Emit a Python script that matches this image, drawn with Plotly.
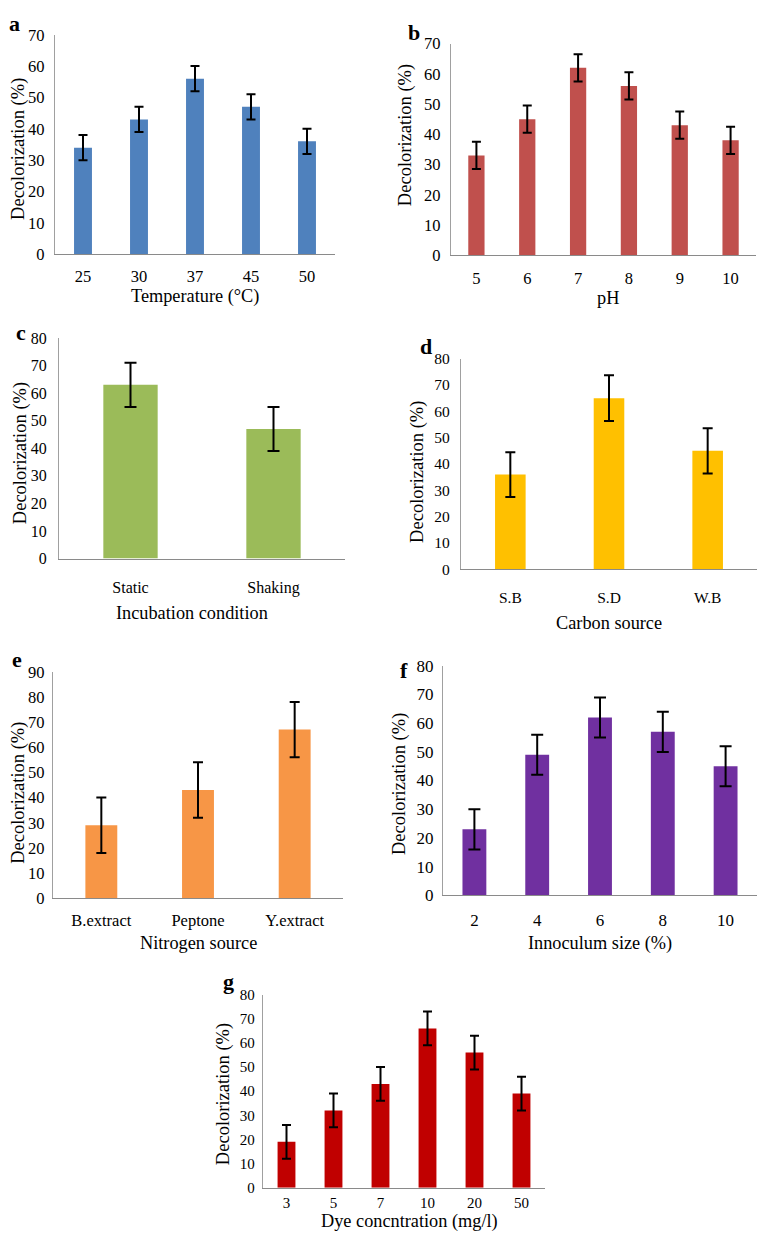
import plotly.graph_objects as go

# The page body has an 8px default margin; the figure is sized and
# positioned so that page pixel (px) maps to figure pixel (px - OFF).
OFF = 8
PAGE_W, PAGE_H = 770, 1241
W, H = PAGE_W - OFF, PAGE_H - OFF

# ---- data ----
temp_cats = ["25", "30", "37", "45", "50"]
temp_vals = [34, 43, 56, 47, 36]
temp_err = [4, 4, 4, 4, 4]

ph_cats = ["5", "6", "7", "8", "9", "10"]
ph_vals = [33, 45, 62, 56, 43, 38]
ph_err = [4.5, 4.5, 4.5, 4.5, 4.5, 4.5]

inc_cats = ["Static", "Shaking"]
inc_vals = [63, 47]
inc_err = [8, 8]

carbon_cats = ["S.B", "S.D", "W.B"]
carbon_vals = [36, 65, 45]
carbon_err = [8.5, 8.7, 8.6]

nitro_cats = ["B.extract", "Peptone", "Y.extract"]
nitro_vals = [29, 43, 67]
nitro_err = [11, 11, 11]

inoc_cats = ["2", "4", "6", "8", "10"]
inoc_vals = [23, 49, 62, 57, 45]
inoc_err = [7, 7, 7, 7, 7]

dye_cats = ["3", "5", "7", "10", "20", "50"]
dye_vals = [19, 32, 43, 66, 56, 39]
dye_err = [7, 7, 7, 7, 7, 7]

FONT = "Liberation Serif"
YTITLE = "Decolorization (%)"


def fx(px):
    return (px - OFF) / W


def fy(py):
    return 1 - (py - OFF) / H


panels = [
    dict(cats=temp_cats, vals=temp_vals, err=temp_err, color="#4F81BD",
         box=(55, 335, 26, 249), ymax=70, fs=16.5, bw=0.32, cap=4.5, xs=7, ys=6,
         letter="a", lpos=(14, 15), xt="Temperature (°C)", xtpos=(195, 292), ytpos=(19, 142)),
    dict(cats=ph_cats, vals=ph_vals, err=ph_err, color="#C0504D",
         box=(451, 756, 35, 250), ymax=70, fs=16.5, bw=0.32, cap=4.5, xs=8, ys=6,
         letter="b", lpos=(414, 24), xt="pH", xtpos=(608, 293), ytpos=(405, 128)),
    dict(cats=inc_cats, vals=inc_vals, err=inc_err, color="#9BBB59",
         box=(59, 345, 334, 558), ymax=80, fs=16, bw=0.38, cap=6, xs=14, ys=8,
         letter="c", lpos=(21, 328), xt="Incubation condition", xtpos=(192, 613), ytpos=(20, 451)),
    dict(cats=carbon_cats, vals=carbon_vals, err=carbon_err, color="#FFC000",
         box=(461, 757, 355, 569), ymax=80, fs=15.5, bw=0.31, cap=5, xs=14, ys=7,
         letter="d", lpos=(426, 343), xt="Carbon source", xtpos=(609, 623), ytpos=(418, 470)),
    dict(cats=nitro_cats, vals=nitro_vals, err=nitro_err, color="#F79646",
         box=(53, 343, 673, 903), ymax=90, fs=16.5, bw=0.33, cap=5, xs=7, ys=4,
         letter="e", lpos=(17, 661), xt="Nitrogen source", xtpos=(198, 949), ytpos=(19, 796)),
    dict(cats=inoc_cats, vals=inoc_vals, err=inoc_err, color="#7030A0",
         box=(443, 757, 667, 900), ymax=80, fs=17, bw=0.38, cap=6, xs=9, ys=5,
         letter="f", lpos=(404, 672), xt="Innoculum size (%)", xtpos=(600, 949), ytpos=(400, 787)),
    dict(cats=dye_cats, vals=dye_vals, err=dye_err, color="#C00000",
         box=(263, 545, 1001, 1197), ymax=80, fs=15, bw=0.38, cap=4.5, xs=1, ys=4,
         letter="g", lpos=(228, 988), xt="Dye concntration (mg/l)", xtpos=(409, 1231), ytpos=(223, 1102)),
]

fig = go.Figure()
annotations = []
layout_axes = {}

for i, p in enumerate(panels, start=1):
    xa = "x" if i == 1 else f"x{i}"
    ya = "y" if i == 1 else f"y{i}"
    fig.add_trace(go.Bar(
        x=p["cats"], y=p["vals"], xaxis=xa, yaxis=ya,
        marker=dict(color=p["color"], line=dict(width=0)),
        width=p["bw"],
        error_y=dict(type="data", array=p["err"], visible=True,
                     color="black", thickness=2, width=p["cap"]),
        showlegend=False, hoverinfo="x+y",
    ))
    x0, x1, y0, y1 = p["box"]
    xkey = "xaxis" if i == 1 else f"xaxis{i}"
    ykey = "yaxis" if i == 1 else f"yaxis{i}"
    layout_axes[xkey] = dict(
        domain=[fx(x0), fx(x1)], anchor=ya, type="category",
        showline=True, linecolor="#8a8a8a", linewidth=1.3,
        showgrid=False, zeroline=False, ticks="",
        ticklabelstandoff=p["xs"],
        tickfont=dict(family=FONT, size=p["fs"], color="black"),
    )
    layout_axes[ykey] = dict(
        domain=[fy(y1), fy(y0)], anchor=xa,
        range=[0, p["ymax"]], dtick=10,
        showline=True, linecolor="#a0a0a0", linewidth=1.3,
        showgrid=False, zeroline=False, ticks="",
        ticklabelstandoff=p["ys"],
        tickfont=dict(family=FONT, size=p["fs"], color="black"),
    )
    lx, ly = p["lpos"]
    annotations.append(dict(text=f"<b>{p['letter']}</b>", x=fx(lx), y=fy(ly),
                            xref="paper", yref="paper", showarrow=False,
                            xanchor="center", yanchor="middle",
                            font=dict(family=FONT, size=22, color="black")))
    tx, ty = p["xtpos"]
    annotations.append(dict(text=p["xt"], x=fx(tx), y=fy(ty),
                            xref="paper", yref="paper", showarrow=False,
                            xanchor="center", yanchor="middle",
                            font=dict(family=FONT, size=18.3, color="black")))
    yx, yy = p["ytpos"]
    annotations.append(dict(text=YTITLE, x=fx(yx), y=fy(yy), textangle=-90,
                            xref="paper", yref="paper", showarrow=False,
                            xanchor="center", yanchor="middle", borderpad=0,
                            font=dict(family=FONT, size=18.5, color="black")))

fig.update_layout(
    width=W, height=H,
    margin=dict(l=0, r=0, t=0, b=0),
    paper_bgcolor="white", plot_bgcolor="white",
    annotations=annotations,
    **layout_axes,
)

fig.write_html("out.html")
